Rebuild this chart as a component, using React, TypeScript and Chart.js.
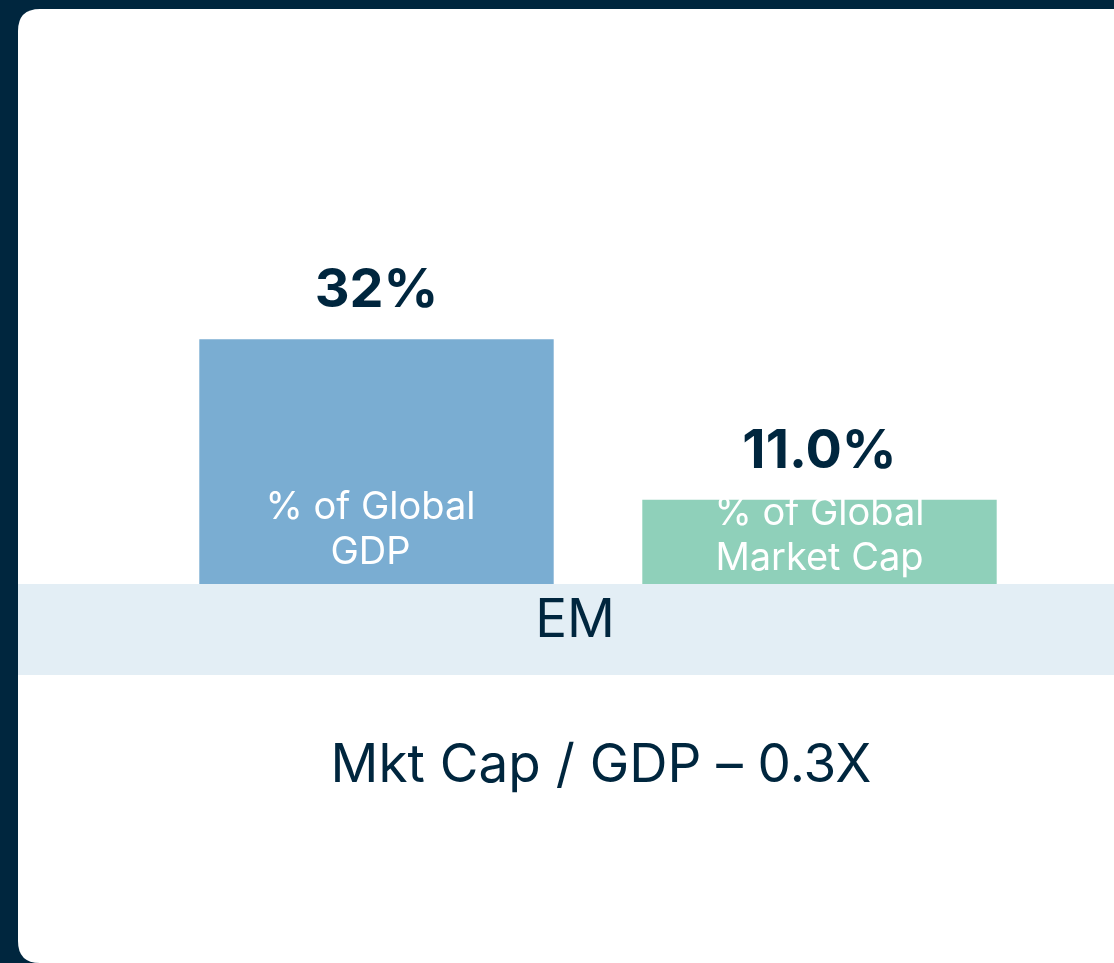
import React, { useEffect, useRef } from "react";
import { Chart, registerables } from "chart.js";

Chart.register(...registerables);

const categories = ["% of Global\nGDP", "% of Global\nMarket Cap"];
const values = [32, 11.0];
const valueLabels = ["32%", "11.0%"];
const groupLabel = "EM";
const footnote = "Mkt Cap / GDP \u2013 0.3X";

const NAVY = "#00263e";
const BAR_COLORS = ["#7aadd2", "#8fd0ba"];
const BAND = "#e3eef5";

const W = 1114;
const H = 963;

const decorPlugin = {
  id: "decor",
  beforeDraw(chart: any) {
    const ctx = chart.ctx;
    ctx.save();
    ctx.fillStyle = NAVY;
    ctx.fillRect(0, 0, W, H);
    // white card
    const x = 18, y = 9, r = 22, w = W + 40, h = H - 9;
    ctx.fillStyle = "#ffffff";
    ctx.beginPath();
    ctx.moveTo(x + r, y);
    ctx.lineTo(x + w, y);
    ctx.lineTo(x + w, y + h);
    ctx.lineTo(x + r, y + h);
    ctx.quadraticCurveTo(x, y + h, x, y + h - r);
    ctx.lineTo(x, y + r);
    ctx.quadraticCurveTo(x, y, x + r, y);
    ctx.closePath();
    ctx.fill();
    ctx.restore();
  },
  afterDatasetsDraw(chart: any) {
    const ctx = chart.ctx;
    const area = chart.chartArea;
    const meta = chart.getDatasetMeta(0);
    ctx.save();
    ctx.fillStyle = "#ffffff";
    ctx.font = "38px Inter";
    ctx.textAlign = "center";
    ctx.textBaseline = "alphabetic";
    const innerOffsets = [-20, -14];
    const innerDx = [-6, 0];
    meta.data.forEach((bar: any, i: number) => {
      const lines = categories[i].split("\n");
      const lh = 45;
      lines.forEach((ln, j) => {
        const yy = area.bottom + innerOffsets[i] - (lines.length - 1 - j) * lh;
        ctx.fillText(ln, bar.x + innerDx[i], yy);
      });
    });
    ctx.fillStyle = NAVY;
    ctx.font = "bold 54px Inter";
    meta.data.forEach((bar: any, i: number) => {
      ctx.fillText(valueLabels[i], bar.x, bar.y - 32);
    });
    ctx.fillStyle = BAND;
    ctx.fillRect(18, area.bottom, W, 91);
    ctx.fillStyle = NAVY;
    ctx.font = "53px Inter";
    ctx.fillText(groupLabel, 575, 637);
    ctx.font = "53px Inter";
    ctx.fillText(footnote, 601, 782);
    ctx.restore();
  },
};

export default function App() {
  const ref = useRef<HTMLCanvasElement>(null);
  useEffect(() => {
    if (!ref.current) return;
    const chart = new Chart(ref.current, {
      type: "bar",
      data: {
        labels: categories,
        datasets: [
          {
            data: values,
            backgroundColor: BAR_COLORS,
            barPercentage: 0.8,
            categoryPercentage: 1,
          },
        ],
      },
      options: {
        animation: false,
        responsive: false,
        maintainAspectRatio: false,
        layout: { padding: { left: 155, right: 73, top: 278, bottom: 379 } },
        plugins: { legend: { display: false }, tooltip: { enabled: false } },
        scales: {
          x: { display: false },
          y: { display: false, min: 0, max: 40 },
        },
      },
      plugins: [decorPlugin],
    });
    return () => chart.destroy();
  }, []);
  return (
    <div style={{ position: "fixed", left: 0, top: 0, width: W, height: H, background: NAVY }}>
      <canvas ref={ref} width={W} height={H} style={{ display: "block", width: W, height: H }} />
    </div>
  );
}
